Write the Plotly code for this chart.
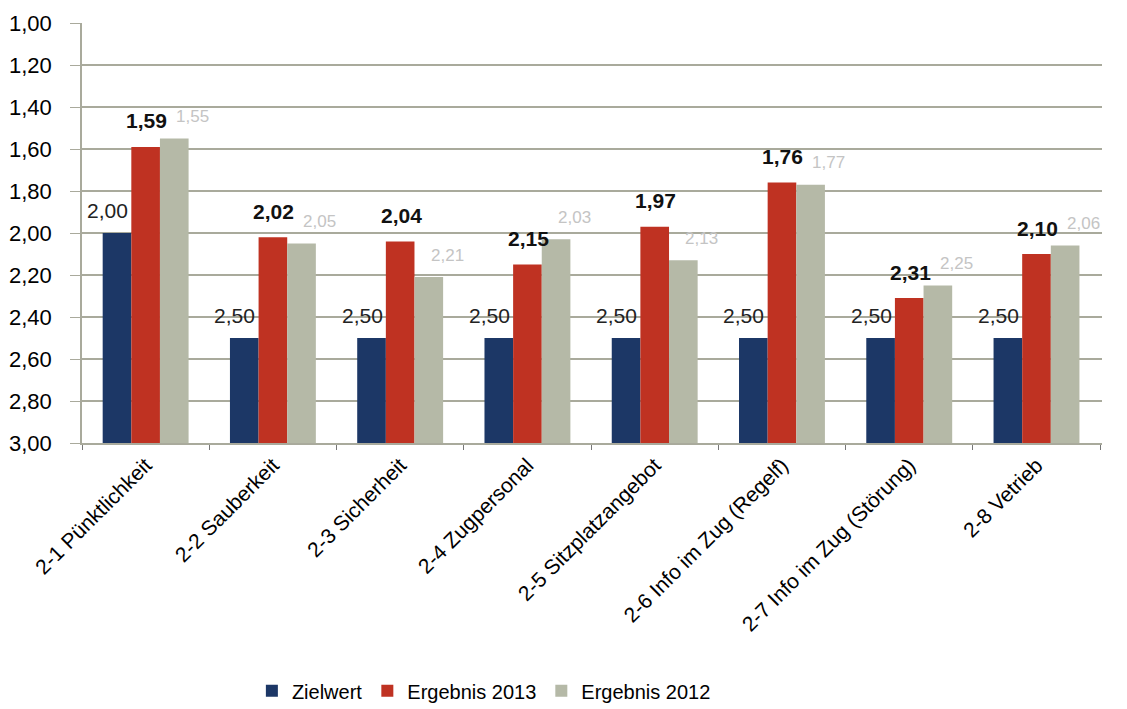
import plotly.graph_objects as go

# data (German grades: 1 = best, 3 = worst)
kategorien = ["2-1 Pünktlichkeit", "2-2 Sauberkeit", "2-3 Sicherheit", "2-4 Zugpersonal",
              "2-5 Sitzplatzangebot", "2-6 Info im Zug (Regelf)", "2-7 Info im Zug (Störung)",
              "2-8 Vetrieb"]
zielwert = [2.00, 2.50, 2.50, 2.50, 2.50, 2.50, 2.50, 2.50]
ergebnis_2013 = [1.59, 2.02, 2.04, 2.15, 1.97, 1.76, 2.31, 2.10]
ergebnis_2012 = [1.55, 2.05, 2.21, 2.03, 2.13, 1.77, 2.25, 2.06]

BASIS = 3.0  # bars grow up from the 3,00 baseline
FONT = "Liberation Sans, Arial, sans-serif"
GRID = "#a9aa9c"


def fmt(v):
    return f"{v:.2f}".replace(".", ",")


serien = [
    # name, values, colour, label font, label xshift, label yshift
    ("Zielwert", zielwert, "#1c3766", dict(size=21, color="#222222", family=FONT), -38, 23),
    ("Ergebnis 2013", ergebnis_2013, "#bf3222", dict(size=21, color="#111111", family=FONT, weight="bold"), 1, 26),
    ("Ergebnis 2012", ergebnis_2012, "#b5b9a7", dict(size=17, color="#c4c4c4", family=FONT), 47, 22),
]

fig = go.Figure()
annotations = []
for name, werte, farbe, lfont, dx, dy in serien:
    fig.add_trace(go.Bar(
        x=kategorien,
        y=[w - BASIS for w in werte],
        base=BASIS,
        name=name,
        marker=dict(color=farbe, line=dict(width=0)),
        hovertext=[fmt(w) for w in werte],
        hoverinfo="text+name",
    ))
    for k, w in zip(kategorien, werte):
        annotations.append(dict(
            x=k, y=w, xref="x", yref="y", text=fmt(w), showarrow=False,
            xshift=dx, yshift=dy, font=lfont,
        ))

# page body keeps an 8px default margin, so the figure is 8px smaller than the window
fig.update_layout(
    width=1119, height=701,
    margin=dict(l=74, r=25, t=15, b=266),
    paper_bgcolor="white", plot_bgcolor="white",
    barmode="group", bargap=0.325, bargroupgap=0,
    separators=",.",
    font=dict(family=FONT, color="black"),
    showlegend=True,
    legend=dict(orientation="h", x=0.394, xanchor="center",
                yref="container", y=0.026, yanchor="middle",
                font=dict(size=20, family=FONT), itemwidth=30, traceorder="normal"),
    annotations=annotations,
)
fig.update_yaxes(
    range=[3, 1], tick0=1, dtick=0.2, tickformat=".2f", automargin=False,
    showgrid=True, gridcolor=GRID, gridwidth=1.5,
    showline=True, linecolor=GRID, linewidth=1.5,
    ticks="outside", ticklen=10, tickcolor=GRID, ticklabelstandoff=14,
    tickfont=dict(size=22, family=FONT), zeroline=False,
)
fig.update_xaxes(
    tickangle=-45, tickfont=dict(size=21, family=FONT), automargin=False,
    showline=True, linecolor=GRID, linewidth=1.5,
    ticks="outside", tickson="boundaries", ticklen=5, tickcolor="#777777",
    showgrid=False,
)

fig.write_html("out.html")
